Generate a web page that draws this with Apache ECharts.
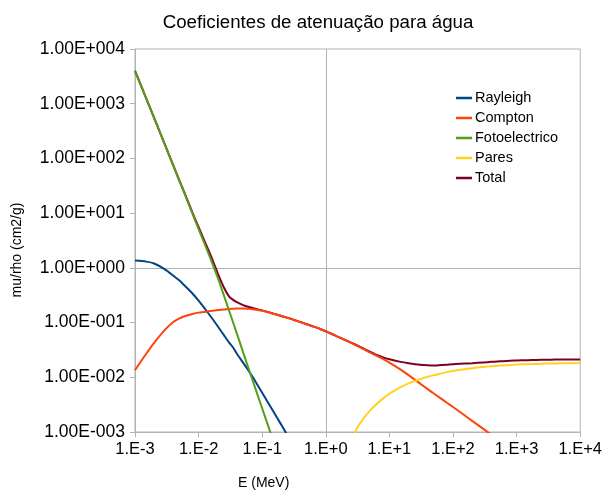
<!DOCTYPE html>
<html>
<head>
<meta charset="utf-8">
<script src="https://cdn.jsdelivr.net/npm/echarts@6/dist/echarts.min.js"></script>
<style>
html,body{margin:0;padding:0;background:#fff;}
#c{width:605px;height:490px;}
</style>
</head>
<body>
<div id="c"></div>
<script>
// Energy grid (MeV)
var energy = [0.001,0.0015,0.002,0.003,0.004,0.005,0.006,0.008,0.01,0.015,0.02,0.025,0.03,0.035,0.04,0.05,0.06,0.08,0.1,0.15,0.2,0.3,0.4,0.5,0.6,0.8,1,1.25,1.5,2,3,4,5,6,8,10,15,20,30,40,50,60,80,100,150,200,300,400,500,600,800,1000,1500,2000,3000,4000,5000,6000,8000,10000];

var rayleigh = [1.36,1.30,1.20,0.93,0.72,0.586,0.475,0.34,0.251,0.136,0.0857,0.0589,0.0435,0.0347,0.0269,0.0185,0.01365,0.00803,0.0052,0.00236,0.00135,0.0006];

var compton = [0.0135,0.0269,0.0427,0.075,0.1023,0.1189,0.1303,0.1435,0.152,0.162,0.169,0.173,0.177,0.1786,0.180,0.180,0.178,0.172,0.164,0.1452,0.1318,0.114,0.102,0.0933,0.0867,0.0771,0.069,0.0617,0.056,0.048,0.0383,0.0323,0.0282,0.0253,0.0214,0.0186,0.0138,0.01096,0.00775,0.00608,0.00505,0.00435,0.00343,0.00286,0.00204,0.0016,0.00114,0.00089];

var fotoelectrico = [4000,1250,548,170,73.5,38.6,22.9,9.77,5.13,1.59,0.66,0.312,0.168,0.0991,0.0627,0.0288,0.01535,0.00575,0.00269,0.00068,0.00025];

// Pares starts at 2 MeV (index 29 of the energy grid)
var paresStart = 29;
var pares = [0.000251,0.001096,0.00182,0.00248,0.00309,0.00412,0.00501,0.0066,0.00776,0.00923,0.01023,0.01096,0.01153,0.01242,0.01303,0.01403,0.01466,0.01545,0.01592,0.01626,0.01648,0.01683,0.01706,0.01738,0.01758,0.01778,0.01791,0.01799,0.01803,0.01811,0.01816];

var total = [4002,1251,549,171,74.3,39.3,23.5,10.25,5.53,1.85,0.794,0.437,0.302,0.26,0.236,0.209,0.194,0.177,0.167,0.1457,0.1317,0.1146,0.1022,0.0934,0.0868,0.0772,0.0693,0.0618,0.0561,0.0483,0.0389,0.0331,0.0292,0.0263,0.02317,0.02128,0.01914,0.01811,0.0170,0.0166,0.01648,0.0166,0.0170,0.01738,0.01778,0.0181,0.0187,0.01914,0.0195,0.01972,0.02004,0.02028,0.02056,0.02075,0.02094,0.02104,0.02109,0.02113,0.02118,0.02123];

var seriesNames = ['Rayleigh','Compton','Fotoelectrico','Pares','Total'];
var seriesColors = ['#004586','#ff420e','#579d1c','#ffd320','#7e0021'];

function pairs(vals, start) {
  start = start || 0;
  var out = [];
  for (var i = 0; i < vals.length; i++) out.push([energy[start + i], vals[i]]);
  return out;
}

function fmtY(v) {
  var e = Math.round(Math.log10(v));
  var s = e < 0 ? '-' : '+';
  var a = String(Math.abs(e));
  while (a.length < 3) a = '0' + a;
  return '1.00E' + s + a;
}
function fmtX(v) {
  var e = Math.round(Math.log10(v));
  return '1.E' + (e < 0 ? '-' : '+') + Math.abs(e);
}

var FONT = 'Liberation Sans';
var chart = echarts.init(document.getElementById('c'), null, {renderer: 'canvas'});

function lineSeries(name, data, color, z) {
  return {
    name: name, type: 'line', data: data, symbol: 'none', showSymbol: false,
    smooth: 0.25, z: z, clip: true,
    lineStyle: {color: color, width: 2}, itemStyle: {color: color}
  };
}

var series = [
  lineSeries('Total', pairs(total), seriesColors[4], 2),
  lineSeries('Rayleigh', pairs(rayleigh), seriesColors[0], 3),
  lineSeries('Compton', pairs(compton), seriesColors[1], 3),
  lineSeries('Fotoelectrico', pairs(fotoelectrico), seriesColors[2], 3),
  lineSeries('Pares', pairs(pares, paresStart), seriesColors[3], 3)
];
series[0].markLine = {
  silent: true, symbol: 'none', animation: false, z: 1,
  label: {show: false},
  lineStyle: {color: '#b3b3b3', width: 1, type: 'solid'},
  data: [{xAxis: 1}, {yAxis: 1}]
};

chart.setOption({
  animation: false,
  backgroundColor: '#fff',
  title: {
    text: 'Coeficientes de atenuação para água',
    left: 313, top: 8, textAlign: 'center',
    textStyle: {fontFamily: FONT, fontSize: 18.7, fontWeight: 'normal', color: '#000'}
  },
  legend: {
    data: seriesNames,
    orient: 'vertical', left: 451, top: 83,
    icon: 'rect',
    itemWidth: 16, itemHeight: 2.5, itemGap: 0,
    textStyle: {fontFamily: FONT, fontSize: 14.5, color: '#000', lineHeight: 20, padding: [0,0,0,-2]}
  },
  grid: {left: 135, right: 24, top: 49, bottom: 58, show: true, borderColor: '#b3b3b3', borderWidth: 1},
  xAxis: {
    type: 'log', logBase: 10, min: 0.001, max: 10000, splitNumber: 7,
    axisLine: {show: true, lineStyle: {color: '#b3b3b3', width: 1}},
    axisTick: {show: true, length: 5, lineStyle: {color: '#b3b3b3'}},
    splitLine: {show: false}, minorTick: {show: false},
    axisLabel: {formatter: fmtX, fontFamily: FONT, fontSize: 16.5, color: '#000', margin: 9}
  },
  yAxis: {
    type: 'log', logBase: 10, min: 0.001, max: 10000, splitNumber: 7,
    axisLine: {show: true, lineStyle: {color: '#b3b3b3', width: 1}},
    axisTick: {show: true, length: 5, lineStyle: {color: '#b3b3b3'}},
    splitLine: {show: false}, minorTick: {show: false},
    axisLabel: {formatter: fmtY, fontFamily: FONT, fontSize: 17.5, color: '#000', margin: 10}
  },
  graphic: [
    {type: 'text', left: 238, top: 476, style: {text: 'E (MeV)', font: '14px "Liberation Sans"', fill: '#000'}},
    {type: 'text', x: 17, y: 250, rotation: Math.PI / 2,
     style: {text: 'mu/rho (cm2/g)', font: '14px "Liberation Sans"', fill: '#000', textAlign: 'center', textVerticalAlign: 'middle'}}
  ],
  series: series
});
</script>
</body>
</html>
